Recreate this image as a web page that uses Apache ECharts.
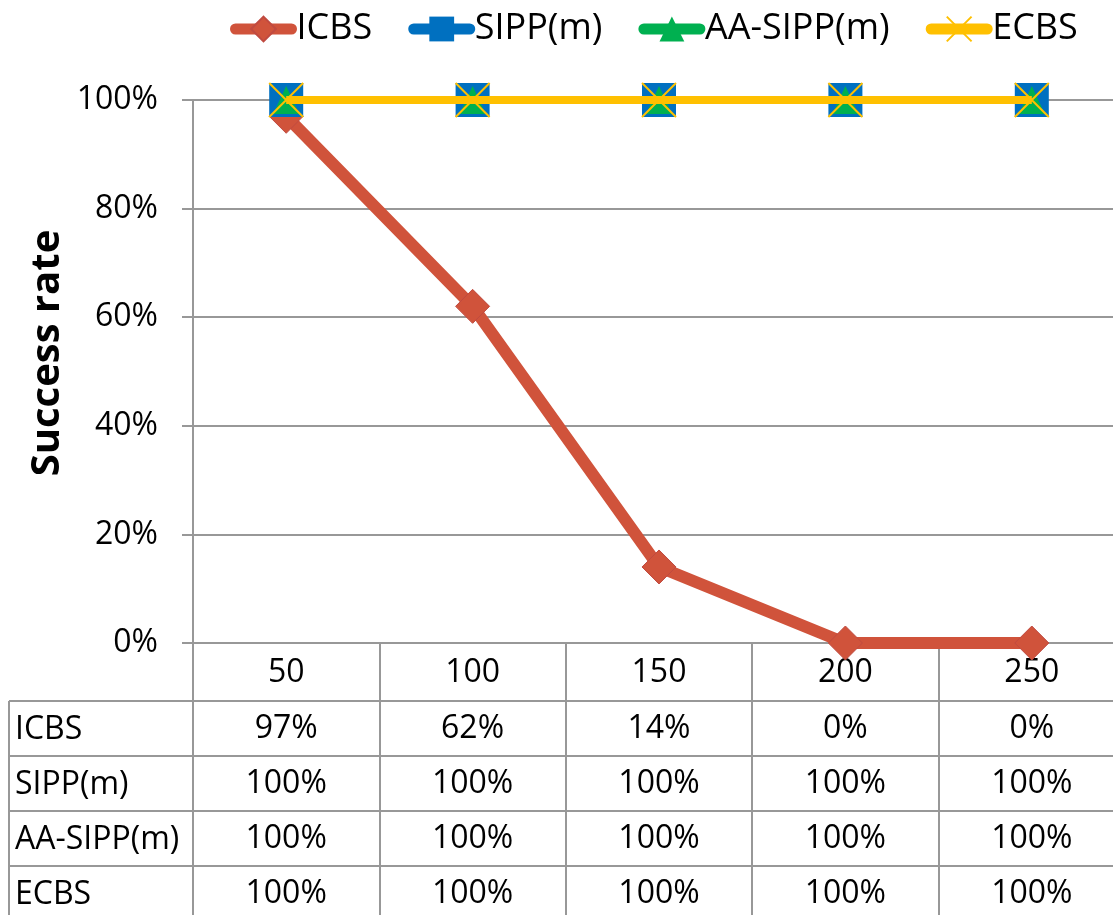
<!DOCTYPE html>
<html>
<head>
<meta charset="utf-8">
<script src="https://cdn.jsdelivr.net/npm/echarts@6/dist/echarts.min.js"></script>
<style>
  html, body { margin: 0; padding: 0; background: #fff; overflow: hidden; }
  /* canvas runs a little past the window so the last table column is cut at the edge */
  #chart { width: 1140px; height: 915px; }
</style>
</head>
<body>
<div id="chart"></div>
<script>
// Agent counts on the x axis
const categories = ['50', '100', '150', '200', '250'];
const seriesNames = ['ICBS', 'SIPP(m)', 'AA-SIPP(m)', 'ECBS'];

// Success rate (%) per method
const icbs    = [97, 62, 14, 0, 0];
const sippM   = [100, 100, 100, 100, 100];
const aaSippM = [100, 100, 100, 100, 100];
const ecbs    = [100, 100, 100, 100, 100];

// Y axis ticks
const yMin = 0, yMax = 100, yStep = 20;

const FONT = '"Open Sans", "Noto Sans", sans-serif';
const LINE_GRAY = '#989898';
const COLORS = ['#D0533B', '#0070C0', '#00B050', '#FFC000'];

// Plot / table geometry
const GRID_LEFT = 193, GRID_TOP = 100, GRID_W = 932, GRID_H = 543;
const HEADER_H = 58, ROW_H = 55;
const TABLE_TOP = GRID_TOP + GRID_H + HEADER_H;
const NAME_COL_LEFT = 9;

const rowValues = [icbs, sippM, aaSippM, ecbs];

const chart = echarts.init(document.getElementById('chart'), null, { renderer: 'canvas' });

// Header row: category labels plus the table's vertical rules
const headerAxis = {
  type: 'category',
  gridIndex: 0,
  position: 'bottom',
  data: categories,
  boundaryGap: true,
  axisLine: { show: true, lineStyle: { color: LINE_GRAY, width: 2 } },
  axisTick: { show: true, interval: 0, length: HEADER_H + ROW_H * rowValues.length + 5,
              lineStyle: { color: LINE_GRAY, width: 2 } },
  axisLabel: { show: true, interval: 0, fontSize: 32, lineHeight: 36, margin: 12,
               color: '#000', fontFamily: FONT },
  splitLine: { show: false }
};

// One category axis per data-table row, each showing that series' values
const tableAxes = rowValues.map((vals, i) => ({
  type: 'category',
  gridIndex: 0,
  position: 'bottom',
  offset: HEADER_H + ROW_H * i,
  data: vals.map(v => v + '%'),
  boundaryGap: true,
  silent: true,
  axisLine: { show: true, lineStyle: { color: LINE_GRAY, width: 2 } },
  axisTick: { show: false },
  axisLabel: { show: true, interval: 0, fontSize: 32, lineHeight: 36, margin: 10,
               color: '#000', fontFamily: FONT },
  splitLine: { show: false }
}));

// Row-name column on the left of the data table
const graphics = [];
rowValues.forEach((_, i) => {
  const y = TABLE_TOP + ROW_H * i;
  graphics.push({
    type: 'line', silent: true,
    shape: { x1: NAME_COL_LEFT, y1: y, x2: GRID_LEFT, y2: y },
    style: { stroke: LINE_GRAY, lineWidth: 2 }
  });
  graphics.push({
    type: 'text', silent: true,
    x: NAME_COL_LEFT + 6, y: y + ROW_H / 2 + 1,
    style: { text: seriesNames[i], fontSize: 32, fontFamily: FONT, fill: '#000',
             textAlign: 'left', textVerticalAlign: 'middle' }
  });
});
graphics.push({
  type: 'line', silent: true,
  shape: { x1: NAME_COL_LEFT, y1: TABLE_TOP, x2: NAME_COL_LEFT, y2: 915 },
  style: { stroke: LINE_GRAY, lineWidth: 2 }
});

// Y axis title
graphics.push({
  type: 'text', silent: true,
  x: 48, y: 353, rotation: Math.PI / 2,
  style: { text: 'Success rate', fontSize: 40, fontWeight: 'bold', fontFamily: FONT,
           fill: '#000', textAlign: 'center', textVerticalAlign: 'middle' }
});

const X_MARK = 'path://M0,0L10,10M10,0L0,10';

const option = {
  backgroundColor: '#fff',
  animation: false,
  textStyle: { fontFamily: FONT },
  legend: {
    top: 6,
    left: 225,
    width: 900,
    orient: 'horizontal',
    itemWidth: 56,
    itemHeight: 31,
    itemGap: 36,
    textStyle: { fontSize: 36, color: '#000', fontFamily: FONT },
    lineStyle: { width: 11, cap: 'round' },
    data: seriesNames
  },
  grid: { left: GRID_LEFT, top: GRID_TOP, width: GRID_W, height: GRID_H, containLabel: false },
  xAxis: [headerAxis].concat(tableAxes),
  yAxis: {
    type: 'value',
    min: yMin, max: yMax, interval: yStep,
    axisLine: { show: true, lineStyle: { color: LINE_GRAY, width: 2 } },
    axisTick: { show: true, length: 11, lineStyle: { color: LINE_GRAY, width: 2 } },
    axisLabel: { formatter: '{value}%', fontSize: 32, color: '#000', fontFamily: FONT, margin: 35 },
    splitLine: { show: true, lineStyle: { color: LINE_GRAY, width: 2 } }
  },
  series: [
    {
      name: seriesNames[0], type: 'line', xAxisIndex: 0, data: icbs,
      symbol: 'diamond', symbolSize: 34,
      lineStyle: { color: COLORS[0], width: 12 },
      itemStyle: { color: COLORS[0], borderColor: '#C04A40', borderWidth: 1 },
      z: 2
    },
    {
      name: seriesNames[1], type: 'line', xAxisIndex: 0, data: sippM,
      symbol: 'rect', symbolSize: 34,
      lineStyle: { color: COLORS[1], width: 8 },
      itemStyle: { color: COLORS[1] },
      z: 3
    },
    {
      name: seriesNames[2], type: 'line', xAxisIndex: 0, data: aaSippM,
      symbol: 'triangle', symbolSize: [26, 28],
      lineStyle: { color: COLORS[2], width: 8 },
      itemStyle: { color: COLORS[2] },
      z: 4
    },
    {
      name: seriesNames[3], type: 'line', xAxisIndex: 0, data: ecbs,
      symbol: X_MARK, symbolSize: 34,
      lineStyle: { color: COLORS[3], width: 8 },
      itemStyle: { color: 'rgba(0,0,0,0)', borderColor: COLORS[3], borderWidth: 2 },
      z: 5
    }
  ],
  graphic: graphics
};

chart.setOption(option);
</script>
</body>
</html>
